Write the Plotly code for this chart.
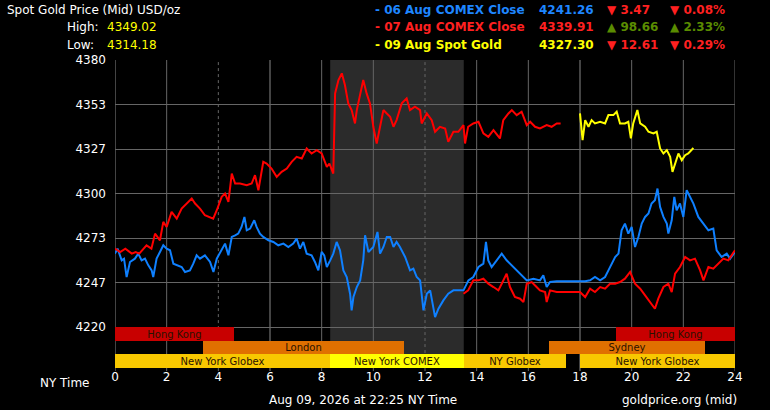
import plotly.graph_objects as go

# 06 Aug COMEX close (blue)
blue_hours = [0.0, 0.1, 0.26, 0.35, 0.45, 0.58, 0.77, 0.9, 1.03, 1.16, 1.29, 1.42, 1.48, 1.61, 1.74, 1.87, 2.0, 2.13, 2.26, 2.39,
              2.58, 2.71, 2.9, 3.03, 3.16, 3.29, 3.48, 3.68, 3.81, 3.94, 4.13, 4.26, 4.39, 4.52, 4.65, 4.77, 4.9, 5.01, 5.1, 5.23,
              5.39, 5.48, 5.61, 5.74, 5.94, 6.13, 6.32, 6.52, 6.71, 6.9, 7.03, 7.16, 7.29, 7.42, 7.61, 7.74, 7.87, 8.0, 8.1, 8.2,
              8.33, 8.45, 8.58, 8.71, 8.84, 8.97, 9.1, 9.16, 9.23, 9.36, 9.49, 9.61, 9.68, 9.81, 10.0, 10.16, 10.26, 10.39, 10.52, 10.65,
              10.78, 10.9, 11.03, 11.23, 11.42, 11.55, 11.68, 11.81, 11.94, 12.07, 12.2, 12.39, 12.52, 12.71, 12.9, 13.1, 13.29, 13.49, 13.68, 13.87,
              14.07, 14.26, 14.36, 14.45, 14.58, 14.77, 14.97, 15.16, 15.36, 15.55, 15.74, 15.94, 16.2, 16.45, 16.58, 16.71, 16.84, 17.1, 17.6, 18.2,
              18.39, 18.58, 18.78, 18.97, 19.1, 19.23, 19.36, 19.49, 19.61, 19.74, 19.87, 20.0, 20.13, 20.26, 20.39, 20.52, 20.65, 20.77, 20.9, 21.0,
              21.1, 21.23, 21.36, 21.42, 21.55, 21.65, 21.74, 21.87, 22.0, 22.13, 22.26, 22.39, 22.58, 22.77, 22.97, 23.16, 23.29, 23.48, 23.68, 23.81, 24.0]
blue_vals = [4264, 4267, 4260, 4261, 4250, 4259, 4261, 4264, 4260, 4261, 4257, 4254, 4250, 4261, 4265, 4269, 4267, 4266, 4258, 4257,
             4256, 4253, 4254, 4258, 4263, 4261, 4263, 4259, 4253, 4261, 4266, 4270, 4263, 4274, 4275, 4276, 4280, 4286, 4278, 4279,
             4284, 4280, 4276, 4274, 4272, 4271, 4269, 4270, 4268, 4270, 4273, 4267, 4271, 4264, 4263, 4259, 4254, 4265, 4263, 4256,
             4260, 4264, 4271, 4266, 4254, 4250, 4240, 4230, 4238, 4244, 4248, 4260, 4275, 4265, 4268, 4277, 4264, 4268, 4274, 4274,
             4268, 4271, 4268, 4262, 4254, 4255, 4250, 4248, 4230, 4240, 4242, 4226, 4231, 4236, 4240, 4242, 4242, 4242, 4248, 4250,
             4256, 4258, 4271, 4260, 4256, 4260, 4264, 4260, 4257, 4254, 4251, 4248, 4249, 4248, 4251, 4244, 4247, 4247.5, 4247.5, 4247.5,
             4248, 4250, 4248, 4250, 4254, 4258, 4262, 4264, 4278, 4282, 4276, 4280, 4268, 4274, 4282, 4286, 4288, 4294, 4296, 4303,
             4292, 4286, 4282, 4276, 4284, 4298, 4290, 4294, 4286, 4302, 4298, 4294, 4286, 4282, 4278, 4279, 4266, 4262, 4264, 4261, 4265]

# 07 Aug COMEX close (red)
red_hours = [0.0, 0.2, 0.4, 0.65, 0.8, 0.94, 1.22, 1.41, 1.55, 1.74, 1.87, 2.0, 2.19, 2.39, 2.58, 2.77, 2.97, 3.1, 3.29, 3.48,
             3.68, 3.8, 3.94, 4.13, 4.26, 4.39, 4.52, 4.65, 4.84, 5.1, 5.29, 5.42, 5.55, 5.74, 5.87, 6.06, 6.26, 6.45, 6.65, 6.84,
             7.03, 7.23, 7.42, 7.61, 7.81, 8.0, 8.2, 8.3, 8.45, 8.52, 8.65, 8.78, 8.9, 9.03, 9.16, 9.29, 9.36, 9.49, 9.61, 9.74,
             9.87, 10.0, 10.13, 10.26, 10.39, 10.52, 10.65, 10.78, 10.9, 11.1, 11.29, 11.42, 11.61, 11.81, 11.87, 12.07, 12.26, 12.39, 12.58, 12.78,
             12.9, 13.1, 13.29, 13.49, 13.55, 13.67, 13.87, 14.07, 14.26, 14.45, 14.65, 14.9, 15.03, 15.23, 15.36, 15.55, 15.74, 15.94, 16.07, 16.26,
             16.45, 16.71, 16.9, 17.1, 17.25]
red_vals = [4267, 4265, 4267, 4264, 4265, 4264, 4269, 4267, 4276, 4272, 4283, 4280, 4289, 4285, 4291, 4294, 4297, 4294, 4291, 4287,
            4286, 4285, 4290, 4298, 4300, 4295, 4312, 4306, 4306, 4305, 4306, 4311, 4302, 4319, 4318, 4315, 4310, 4313, 4315, 4319,
            4322, 4321, 4327, 4324, 4326, 4324, 4316, 4318, 4312, 4360, 4368, 4372, 4365, 4354, 4350, 4342, 4350, 4360, 4368, 4360,
            4354, 4340, 4330, 4340, 4350, 4348, 4346, 4340, 4344, 4354, 4357, 4350, 4352, 4350, 4342, 4348, 4344, 4337, 4340, 4339,
            4331, 4337, 4337, 4341, 4330, 4340, 4342, 4343, 4336, 4334, 4338, 4333, 4344, 4348, 4350, 4347, 4349, 4341, 4343, 4340,
            4339, 4341, 4340, 4342, 4342]

# second red segment (afternoon / overnight)
red2_hours = [13.49, 13.67, 13.87, 14.07, 14.26, 14.45, 14.65, 14.84, 14.97, 15.16, 15.29, 15.48, 15.68, 15.81, 15.94, 16.13, 16.32, 16.45, 16.65, 16.71,
              16.84, 17.1, 17.6, 18.0, 18.2, 18.39, 18.58, 18.78, 18.97, 19.16, 19.36, 19.55, 19.74, 19.94, 20.13, 20.33, 20.52, 20.71, 20.9, 21.03,
              21.23, 21.42, 21.55, 21.68, 21.87, 22.07, 22.26, 22.45, 22.65, 22.78, 22.97, 23.16, 23.36, 23.55, 23.74, 24.0]
red2_vals = [4240, 4242, 4248, 4248, 4249, 4246, 4244, 4242, 4246, 4252, 4244, 4238, 4237, 4235, 4246, 4247, 4244, 4242, 4241, 4235,
             4242, 4241, 4241, 4241, 4238, 4243, 4241, 4244, 4243, 4246, 4246, 4247, 4249, 4253, 4246, 4243, 4239, 4235, 4231, 4237,
             4244, 4246, 4241, 4252, 4256, 4262, 4260, 4261, 4254, 4248, 4256, 4255, 4258, 4261, 4260, 4266]

# 09 Aug spot gold (yellow)
yellow_hours = [18.0, 18.1, 18.2, 18.33, 18.45, 18.58, 18.78, 18.97, 19.1, 19.29, 19.42, 19.55, 19.74, 19.87, 19.97, 20.06, 20.22, 20.33, 20.52, 20.65,
                20.84, 20.97, 21.1, 21.23, 21.36, 21.49, 21.58, 21.68, 21.81, 21.94, 22.07, 22.19, 22.39]
yellow_vals = [4348, 4332, 4344, 4340, 4344, 4342, 4343, 4342, 4347, 4347, 4349, 4342, 4342, 4343, 4333, 4342, 4350, 4342, 4340, 4337,
               4336, 4337, 4327, 4324, 4326, 4322, 4313, 4318, 4324, 4320, 4323, 4324, 4327.3]

# y ticks
y_tickvals = [4220, 4246.67, 4273.33, 4300, 4326.67, 4353.33, 4380]
y_ticktext = ["4220", "4247", "4273", "4300", "4327", "4353", "4380"]
x_tickvals = list(range(0, 25, 2))

# market sessions: name, start, end, row, colour
session_names = ["Hong Kong", "Hong Kong", "London", "Sydney", "New York Globex", "New York COMEX", "NY Globex", "New York Globex"]
session_start = [0, 19.4, 3.4, 16.8, 0, 8.33, 13.5, 18.0]
session_end = [4.6, 24, 11.2, 22.85, 8.33, 13.5, 17.45, 24]
session_row = [2, 2, 1, 1, 0, 0, 0, 0]
session_color = ["#c80000", "#c80000", "#e07000", "#e07000", "#f8c800", "#ffff00", "#f8c800", "#f8c800"]

# legend rows
legend_names = ["06 Aug COMEX Close", "07 Aug COMEX Close", "09 Aug Spot Gold"]
legend_prices = ["4241.26", "4339.91", "4327.30"]
legend_changes = ["▼ 3.47", "▲ 98.66", "▼ 12.61"]
legend_pcts = ["▼ 0.08%", "▲ 2.33%", "▼ 0.29%"]
legend_colors = ["#1e86ff", "#ff2020", "#ffff00"]
change_colors = ["#ff2020", "#5a8c00", "#ff2020"]

comex_shade = (8.33, 13.5)

FONT = "DejaVu Sans"

fig = go.Figure()

fig.add_trace(go.Scatter(x=blue_hours, y=blue_vals, mode="lines", line=dict(color="#0f80ff", width=2)))
fig.add_trace(go.Scatter(x=red2_hours, y=red2_vals, mode="lines", line=dict(color="#ff0000", width=2)))
fig.add_trace(go.Scatter(x=red_hours, y=red_vals, mode="lines", line=dict(color="#ff0000", width=2)))
fig.add_trace(go.Scatter(x=yellow_hours, y=yellow_vals, mode="lines", line=dict(color="#ffff00", width=2)))

fig.add_trace(go.Bar(
    y=session_row, x=[e - s for s, e in zip(session_start, session_end)], base=session_start,
    orientation="h", width=1, yaxis="y2",
    marker=dict(color=session_color, line=dict(width=0)),
    text=session_names, textposition="inside", insidetextanchor="middle",
    textfont=dict(family=FONT, size=10, color="#2a1200"), constraintext="none",
))

shapes = [dict(type="rect", xref="x", yref="paper", x0=comex_shade[0], x1=comex_shade[1], y0=0, y1=1,
               fillcolor="#2b2b2b", line=dict(width=0), layer="below")]
for h in x_tickvals:
    dotted = h in (4, 12)
    heavy = h in (0, 6, 18)
    shapes.append(dict(type="line", xref="x", yref="paper", x0=h, x1=h, y0=-0.01, y1=1,
                       line=dict(color="#444444" if heavy else "#666666", width=2 if heavy else 1,
                                 dash="dot" if dotted else "solid"), layer="below"))

ann = []
ann.append(dict(text="Spot Gold Price (Mid) USD/oz", x=5, y=10, font=dict(size=12, color="#ffffff")))
ann.append(dict(text="High:", x=65, y=27, font=dict(size=12, color="#ffffff")))
ann.append(dict(text="4349.02", x=105, y=27, font=dict(size=12, color="#ffff00")))
ann.append(dict(text="Low:", x=65, y=45, font=dict(size=12, color="#ffffff")))
ann.append(dict(text="4314.18", x=105, y=45, font=dict(size=12, color="#ffff00")))
for i in range(3):
    yy = 10 + 17.5 * i
    ann.append(dict(text="<b>- " + legend_names[i] + "</b>", x=373, y=yy, font=dict(size=12, color=legend_colors[i])))
    ann.append(dict(text="<b>" + legend_prices[i] + "</b>", x=537, y=yy, font=dict(size=12, color=legend_colors[i])))
    ann.append(dict(text="<b>" + legend_changes[i] + "</b>", x=605, y=yy, font=dict(size=12, color=change_colors[i])))
    ann.append(dict(text="<b>" + legend_pcts[i] + "</b>", x=668, y=yy, font=dict(size=12, color=change_colors[i])))
ann.append(dict(text="NY Time", x=38, y=383, font=dict(size=12, color="#ffffff")))
ann.append(dict(text="Aug 09, 2026 at 22:25 NY Time", x=267, y=400, font=dict(size=12, color="#ffffff")))
ann.append(dict(text="goldprice.org (mid)", x=620, y=400, font=dict(size=12, color="#ffffff")))

# convert pixel anchors to paper coordinates of the 620x308 plot area
L, T, PW, PH = 115, 60, 620, 308
for a in ann:
    a["x"] = (a["x"] - L) / PW
    a["y"] = (T + PH - a["y"]) / PH
    a.update(xref="paper", yref="paper", xanchor="left", yanchor="middle", showarrow=False)
    a["font"]["family"] = FONT

fig.update_layout(
    width=770, height=410,
    margin=dict(l=115, r=35, t=60, b=42),
    paper_bgcolor="#000000", plot_bgcolor="#000000",
    showlegend=False, bargap=0,
    font=dict(family=FONT, size=12, color="#ffffff"),
    xaxis=dict(range=[0, 24], tickvals=x_tickvals, showgrid=False, zeroline=False,
               ticks="", tickfont=dict(size=12, color="#ffffff"), fixedrange=True),
    yaxis=dict(range=[4195.5, 4380], tickvals=y_tickvals, ticktext=y_ticktext, showgrid=True,
               gridcolor="#666666", gridwidth=1, zeroline=False, ticks="", ticklabelstandoff=8,
               tickfont=dict(size=12, color="#ffffff"), fixedrange=True),
    yaxis2=dict(overlaying="y", range=[-0.5, 22.2], visible=False, fixedrange=True),
    shapes=shapes, annotations=ann,
)

# drop the browser's default body margin so the figure sits at the window's corner
fig.write_html("out.html", config={"displayModeBar": False},
               post_script="document.body.style.margin='0';document.body.style.background='#000';")
